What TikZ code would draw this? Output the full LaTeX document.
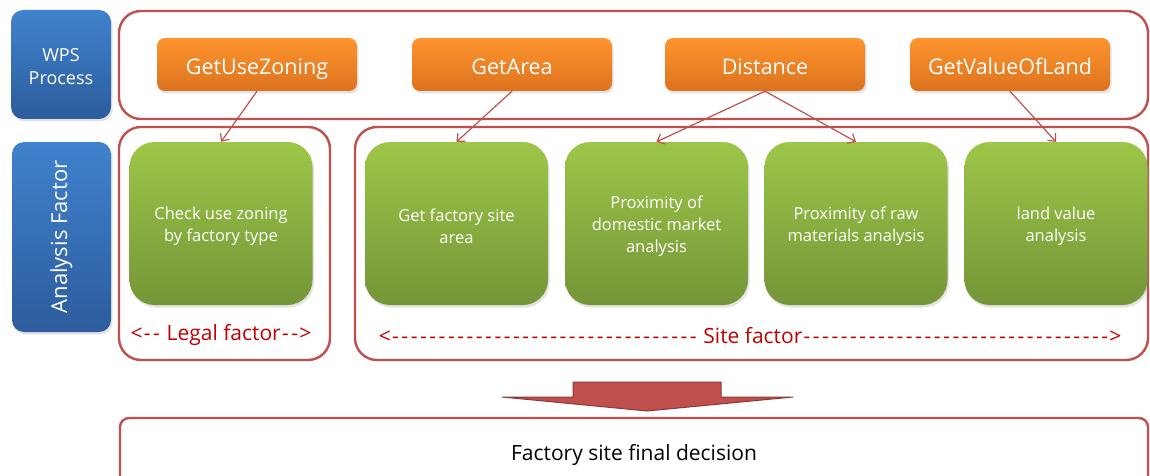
\documentclass[tikz,border=0pt]{standalone}
\usepackage{fontspec}
\setmainfont{Open Sans}
\newfontfamily\redfont{Open Sans}[Ligatures=TeXOff]
\usetikzlibrary{arrows.meta,shadows}
\definecolor{frame}{RGB}{192,80,77}
\definecolor{frameDark}{RGB}{140,56,54}
\definecolor{redtext}{RGB}{192,0,0}
\definecolor{blueTop}{RGB}{64,130,206}
\definecolor{blueBot}{RGB}{44,92,156}
\definecolor{orangeTop}{RGB}{254,149,46}
\definecolor{orangeBot}{RGB}{220,114,30}
\definecolor{greenTop}{RGB}{157,198,72}
\definecolor{greenBot}{RGB}{116,150,56}
\newcommand\dsh{\makebox[9.3pt]{-}}
\newcommand\dshten{\dsh\dsh\dsh\dsh\dsh\dsh\dsh\dsh\dsh\dsh}
\begin{document}
\begin{tikzpicture}[x=1pt,y=-1pt,
  softshadow/.style={drop shadow={opacity=0.22,shadow xshift=1.5pt,shadow yshift=-2.5pt}},
  bluebox/.style={rounded corners=12pt,top color=blueTop,bottom color=blueBot,draw=none,
    inner sep=0pt,softshadow},
  bluetext/.style={label={[text=white,align=center,inner sep=0pt,yshift=-2.5pt,
    font=\fontsize{18}{23}\selectfont]center:#1}},
  orangebox/.style={rounded corners=8pt,top color=orangeTop,bottom color=orangeBot,draw=none,
    text=white,inner sep=0pt,minimum width=200pt,minimum height=53pt,
    text height=20pt,text depth=0pt,
    font=\fontsize{21.5}{26}\selectfont,softshadow},
  greenbox/.style={rounded corners=25pt,top color=greenTop,bottom color=greenBot,draw=none,
    inner sep=0pt,minimum width=183pt,minimum height=163pt,softshadow},
  greentext/.style={label={[text=white,align=center,inner sep=0pt,yshift=-3pt,
    font=\fontsize{16.5}{22}\selectfont]center:#1}},
  container/.style={draw=frame,line width=2.4pt,rounded corners=22pt,inner sep=0pt},
  link/.style={draw=frame,line width=1.2pt,-{Straight Barb[length=6pt,width=11pt,line width=1.2pt]}},
  redlabel/.style={text=redtext,inner sep=0pt,font=\redfont\fontsize{21}{25}\selectfont}
]
\clip (0,0) rectangle (1150,476);
\useasboundingbox (0,0) rectangle (1150,476);

% left side headers
\node[bluebox,minimum width=100pt,minimum height=109pt,bluetext={WPS\\Process}]
  (wps) at (61,64.5) {};
\node[bluebox,minimum width=99pt,minimum height=190pt,text=white,font=\fontsize{22}{26}\selectfont]
  (af) at (61.5,237) {\rotatebox{90}{Analysis Factor}};

% containers
\node[container,minimum width=1029pt,minimum height=108pt] (top) at (633.5,65) {};
\node[container,minimum width=211pt,minimum height=233pt] (legal) at (224.5,243.5) {};
\node[container,minimum width=793pt,minimum height=233pt] (site) at (751.5,243.5) {};

% WPS processes
\node[orangebox] (o1) at (257,64.5) {GetUseZoning};
\node[orangebox] (o2) at (512,64.5) {GetArea};
\node[orangebox] (o3) at (765,64.5) {Distance};
\node[orangebox] (o4) at (1010,64.5) {GetValueOfLand};

% analysis factors
\node[greenbox,greentext={Check use zoning\\by factory type}] (g1) at (221,223.5) {};
\node[greenbox,greentext={Get factory site\\area}] (g2) at (456.5,223.5) {};
\node[greenbox,greentext={Proximity of\\domestic market\\analysis}] (g3) at (656.5,223.5) {};
\node[greenbox,greentext={Proximity of raw\\materials analysis}] (g4) at (856,223.5) {};
\node[greenbox,greentext={land value\\analysis}] (g5) at (1056,223.5) {};

% connectors
\draw[link] (o1.south) -- (g1.north);
\draw[link] (o2.south) -- (g2.north);
\draw[link] (o3.south) -- (g3.north);
\draw[link] (o3.south) -- (g4.north);
\draw[link] (o4.south) -- (g5.north);

% factor labels
\node[redlabel] (legaltxt) at (221,334.5) {<\dsh\dsh\ Legal factor\dsh\dsh>};
\node[redlabel] (sitetxt) at (750,336)
  {<\dshten\dshten\dshten\dsh\dsh\dsh\ Site factor\dshten\dshten\dshten\dsh\dsh\dsh>};

% big down arrow
\draw[fill=frame,draw=frameDark,line width=1pt,line join=round]
  (573,382) -- (721,382) -- (721,397) -- (793,397) -- (647,411) -- (502,397) -- (573,397) -- cycle;

% final decision
\node[draw=frame,line width=2.4pt,rounded corners=9pt,minimum width=1028pt,minimum height=68pt,
  inner sep=0pt,text height=17pt,text depth=0pt,font=\fontsize{21}{24}\selectfont]
  (final) at (634,452) {Factory site final decision};
\end{tikzpicture}
\end{document}
